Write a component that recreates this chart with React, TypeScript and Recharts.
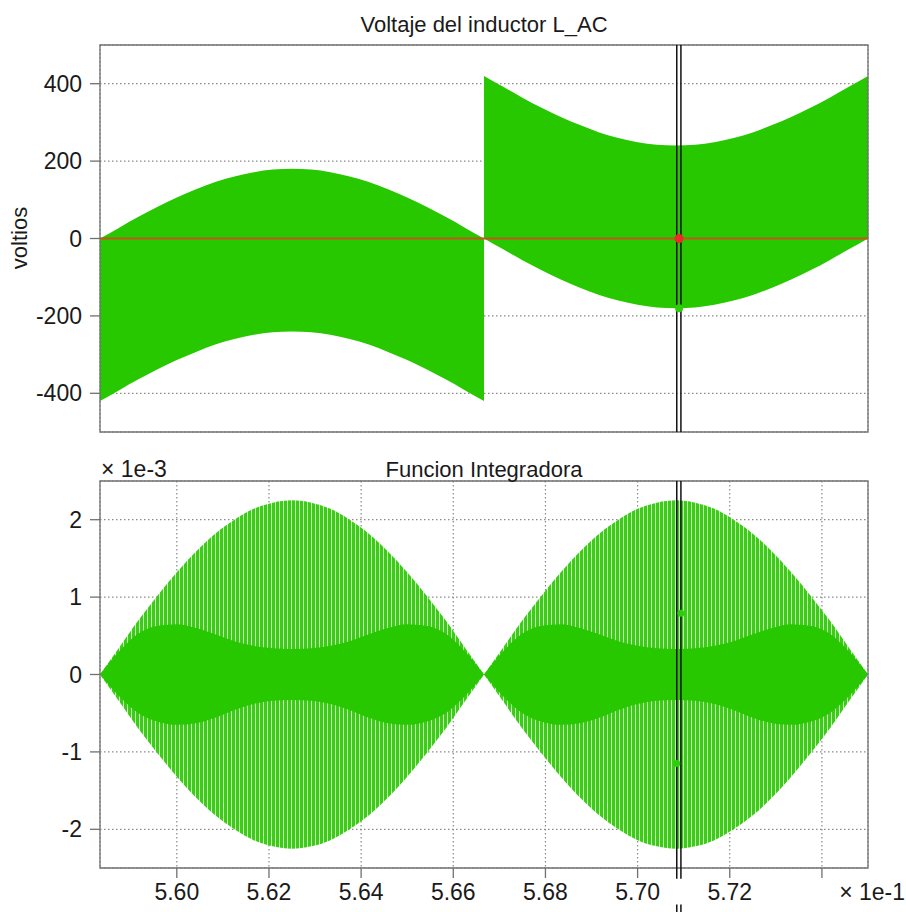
import React from 'react';
import {
  ComposedChart, Area, Line, XAxis, YAxis, CartesianGrid, ReferenceLine, ReferenceDot, ReferenceArea,
} from 'recharts';

// time axis (× 1e-1 s)
const tLeft = [5.58333, 5.5875, 5.59167, 5.59583, 5.6, 5.60417, 5.60833, 5.6125, 5.61667, 5.62083, 5.625,
  5.62917, 5.63333, 5.6375, 5.64167, 5.64583, 5.65, 5.65417, 5.65833, 5.6625, 5.66667];
const tRight = [5.66667, 5.67083, 5.675, 5.67917, 5.68333, 5.6875, 5.69167, 5.69583, 5.7, 5.70417, 5.70833,
  5.7125, 5.71667, 5.72083, 5.725, 5.72917, 5.73333, 5.7375, 5.74167, 5.74583, 5.75];

// Voltaje del inductor L_AC envelopes (voltios)
const leftHi = [0, 28, 56, 82, 106, 127, 146, 160, 171, 178, 180, 178, 171, 160, 146, 127, 106, 82, 56, 28, 0];
const leftLo = [-420, -392, -364, -338, -314, -293, -274, -260, -249, -242, -240, -242, -249, -260, -274, -293, -314, -338, -364, -392, -420];
const rightHi = [420, 392, 364, 338, 314, 293, 274, 260, 249, 242, 240, 242, 249, 260, 274, 293, 314, 338, 364, 392, 420];
const rightLo = [0, -28, -56, -82, -106, -127, -146, -160, -171, -178, -180, -178, -171, -160, -146, -127, -106, -82, -56, -28, 0];
const redStart = 0;
const redEnd = 0;

// Funcion Integradora envelopes (× 1e-3), one list per half cycle
const outerHi1 = [0, 0.35, 0.70, 1.02, 1.32, 1.59, 1.82, 2.00, 2.14, 2.22, 2.25, 2.22, 2.14, 2.00, 1.82, 1.59, 1.32, 1.02, 0.70, 0.35, 0];
const outerLo1 = [0, -0.35, -0.70, -1.02, -1.32, -1.59, -1.82, -2.00, -2.14, -2.22, -2.25, -2.22, -2.14, -2.00, -1.82, -1.59, -1.32, -1.02, -0.70, -0.35, 0];
const outerHi2 = [0, 0.35, 0.70, 1.02, 1.32, 1.59, 1.82, 2.00, 2.14, 2.22, 2.25, 2.22, 2.14, 2.00, 1.82, 1.59, 1.32, 1.02, 0.70, 0.35, 0];
const outerLo2 = [0, -0.35, -0.70, -1.02, -1.32, -1.59, -1.82, -2.00, -2.14, -2.22, -2.25, -2.22, -2.14, -2.00, -1.82, -1.59, -1.32, -1.02, -0.70, -0.35, 0];
const innerHi1 = [0, 0.30, 0.53, 0.63, 0.65, 0.60, 0.52, 0.43, 0.37, 0.34, 0.33, 0.34, 0.37, 0.43, 0.52, 0.60, 0.65, 0.63, 0.53, 0.30, 0];
const innerLo1 = [0, -0.28, -0.50, -0.61, -0.65, -0.63, -0.56, -0.46, -0.38, -0.34, -0.33, -0.34, -0.38, -0.46, -0.56, -0.63, -0.65, -0.61, -0.50, -0.28, 0];
const innerHi2 = [0, 0.30, 0.53, 0.63, 0.65, 0.60, 0.52, 0.43, 0.37, 0.34, 0.33, 0.34, 0.37, 0.43, 0.52, 0.60, 0.65, 0.63, 0.53, 0.30, 0];
const innerLo2 = [0, -0.28, -0.50, -0.61, -0.65, -0.63, -0.56, -0.46, -0.38, -0.34, -0.33, -0.34, -0.38, -0.46, -0.56, -0.63, -0.65, -0.61, -0.50, -0.28, 0];

// cursor and markers
const cursorA = 5.7085;
const cursorB = 5.7094;
const topMarkers = [{ t: 5.709, v: 0 }, { t: 5.709, v: -180 }];
const botMarkers = [{ t: 5.7094, v: 0.79 }, { t: 5.7085, v: -1.15 }];
const cursorTail = [-2.5, -2.64];
const cursorHandle = [-2.97, -3.2];

// ticks
const xTicks = [5.60, 5.62, 5.64, 5.66, 5.68, 5.70, 5.72, 5.74];
const xLabels = ['5.60', '5.62', '5.64', '5.66', '5.68', '5.70', '5.72', ''];
const yTopTicks = [-400, -200, 0, 200, 400];
const yBotTicks = [-2, -1, 0, 1, 2];

const X_DOMAIN: [number, number] = [5.58333, 5.75];
const FONT = '"Liberation Sans", Arial, sans-serif';
const GREEN = '#27c800';
const FRAME = '#707070';
const GRID = '#8a8a8a';

const topRows = [
  ...tLeft.map((t, i) => ({ t, lBand: [leftLo[i], leftHi[i]], red: i === 0 ? redStart : undefined })),
  ...tRight.map((t, i) => ({ t, rBand: [rightLo[i], rightHi[i]], red: i === tRight.length - 1 ? redEnd : undefined })),
];
const botRows = [
  ...tLeft.map((t, i) => ({ t, outer1: [outerLo1[i], outerHi1[i]], inner1: [innerLo1[i], innerHi1[i]] })),
  ...tRight.map((t, i) => ({ t, outer2: [outerLo2[i], outerHi2[i]], inner2: [innerLo2[i], innerHi2[i]] })),
];

const tickStyle = { fontSize: 23, fill: '#1a1a1a', fontFamily: FONT };

export default function App() {
  return (
    <div style={{ position: 'absolute', left: 0, top: 0, width: 906, height: 912, background: '#fff', fontFamily: FONT, overflow: 'hidden' }}>
      <div style={{ position: 'absolute', left: 0, top: 0 }}>
        <ComposedChart width={906} height={450} data={topRows} margin={{ top: 45, right: 38, bottom: 18, left: 0 }}>
          <CartesianGrid stroke={GRID} strokeDasharray="1.5 2.5" strokeWidth={1.2} />
          <XAxis dataKey="t" type="number" domain={X_DOMAIN} allowDataOverflow ticks={xTicks} tick={false} tickLine={false} axisLine={false} height={0} />
          <YAxis type="number" domain={[-500, 500]} allowDataOverflow ticks={yTopTicks} width={100} tickSize={10} tickMargin={8}
            axisLine={false} tickLine={{ stroke: FRAME, strokeWidth: 1.3 }} tick={tickStyle} />
          <Area dataKey="lBand" type="monotone" stroke="none" fill={GREEN} fillOpacity={1} isAnimationActive={false} connectNulls={false} />
          <Area dataKey="rBand" type="monotone" stroke="none" fill={GREEN} fillOpacity={1} isAnimationActive={false} connectNulls={false} />
          <Line dataKey="red" stroke="#c4561c" strokeWidth={2} dot={false} connectNulls isAnimationActive={false} />
          <ReferenceLine x={cursorA} stroke="#111" strokeWidth={1.5} />
          <ReferenceLine x={cursorB} stroke="#111" strokeWidth={1.5} />
          <ReferenceDot x={topMarkers[0].t} y={topMarkers[0].v} r={4.5} fill="#f02828" stroke="none" />
          <ReferenceDot x={topMarkers[1].t} y={topMarkers[1].v} r={4} fill="#2ccf08" stroke="none" />
          <ReferenceArea x1={X_DOMAIN[0]} x2={X_DOMAIN[1]} y1={-500} y2={500} fill="none" stroke={FRAME} strokeWidth={1.3} />
        </ComposedChart>
      </div>
      <div style={{ position: 'absolute', left: 0, top: 460 }}>
        <ComposedChart width={906} height={452} data={botRows} margin={{ top: 21, right: 38, bottom: 0, left: 0 }}>
          <defs>
            <pattern id="stripes" patternUnits="userSpaceOnUse" width={4} height={8}>
              <rect x={0} y={0} width={3} height={8} fill="#3ccc18" />
              <rect x={3} y={0} width={1} height={8} fill="#3ccc18" fillOpacity={0.3} />
            </pattern>
          </defs>
          <CartesianGrid stroke={GRID} strokeDasharray="1.5 2.5" strokeWidth={1.2} />
          <XAxis dataKey="t" type="number" domain={X_DOMAIN} allowDataOverflow ticks={xTicks} height={44} tickSize={10} tickMargin={6}
            tickFormatter={(v: number) => xLabels[xTicks.indexOf(v)] ?? ''}
            axisLine={false} tickLine={{ stroke: FRAME, strokeWidth: 1.3 }} tick={tickStyle} />
          <YAxis type="number" domain={[-2.5, 2.5]} allowDataOverflow ticks={yBotTicks} width={100} tickSize={10} tickMargin={8}
            axisLine={false} tickLine={{ stroke: FRAME, strokeWidth: 1.3 }} tick={tickStyle} />
          <Area dataKey="outer1" type="monotone" stroke="none" fill="url(#stripes)" fillOpacity={1} isAnimationActive={false} connectNulls={false} />
          <Area dataKey="outer2" type="monotone" stroke="none" fill="url(#stripes)" fillOpacity={1} isAnimationActive={false} connectNulls={false} />
          <Area dataKey="inner1" type="monotone" stroke="none" fill={GREEN} fillOpacity={1} isAnimationActive={false} connectNulls={false} />
          <Area dataKey="inner2" type="monotone" stroke="none" fill={GREEN} fillOpacity={1} isAnimationActive={false} connectNulls={false} />
          <ReferenceLine x={cursorA} stroke="#111" strokeWidth={1.5} />
          <ReferenceLine x={cursorB} stroke="#111" strokeWidth={1.5} />
          <ReferenceLine segment={[{ x: cursorA, y: cursorTail[0] }, { x: cursorA, y: cursorTail[1] }]} ifOverflow="visible" stroke="#111" strokeWidth={1.5} />
          <ReferenceLine segment={[{ x: cursorB, y: cursorTail[0] }, { x: cursorB, y: cursorTail[1] }]} ifOverflow="visible" stroke="#111" strokeWidth={1.5} />
          <ReferenceLine segment={[{ x: cursorA, y: cursorHandle[0] }, { x: cursorA, y: cursorHandle[1] }]} ifOverflow="visible" stroke="#111" strokeWidth={1.5} />
          <ReferenceLine segment={[{ x: cursorB, y: cursorHandle[0] }, { x: cursorB, y: cursorHandle[1] }]} ifOverflow="visible" stroke="#111" strokeWidth={1.5} />
          <ReferenceDot x={botMarkers[0].t} y={botMarkers[0].v} r={3.5} fill="#2ccf08" stroke="none" />
          <ReferenceDot x={botMarkers[1].t} y={botMarkers[1].v} r={3.5} fill="#2ccf08" stroke="none" />
          <ReferenceArea x1={X_DOMAIN[0]} x2={X_DOMAIN[1]} y1={-2.5} y2={2.5} fill="none" stroke={FRAME} strokeWidth={1.3} />
        </ComposedChart>
      </div>
      <svg width={906} height={912} style={{ position: 'absolute', left: 0, top: 0, pointerEvents: 'none' }}>
        <g fontFamily={FONT} fill="#1a1a1a">
          <text x={484} y={31.5} fontSize={22} textAnchor="middle">Voltaje del inductor L_AC</text>
          <text x={484} y={476.5} fontSize={22} textAnchor="middle">Funcion Integradora</text>
          <text x={101} y={477} fontSize={23} textAnchor="start">× 1e-3</text>
          <text x={905} y={900} fontSize={23} textAnchor="end">× 1e-1</text>
          <text transform="translate(27,238) rotate(-90)" fontSize={22} textAnchor="middle">voltios</text>
        </g>
      </svg>
    </div>
  );
}
